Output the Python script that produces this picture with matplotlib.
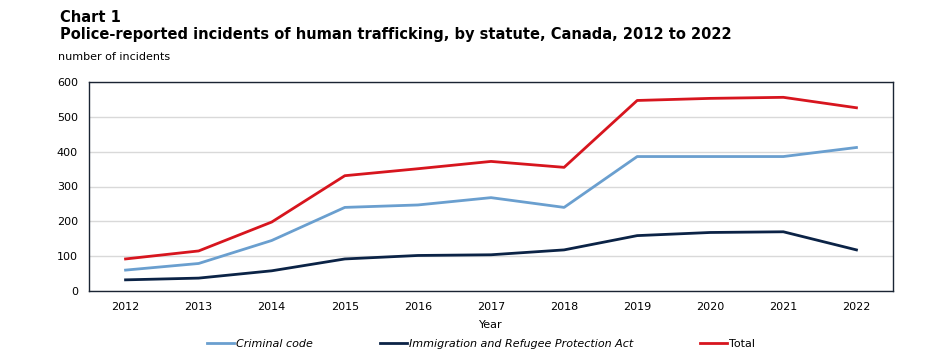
import matplotlib.pyplot as plt

# Data
years = [2012, 2013, 2014, 2015, 2016, 2017, 2018, 2019, 2020, 2021, 2022]
criminal_code = [60, 79, 145, 240, 247, 268, 240, 386, 386, 386, 412]
irpa = [32, 37, 58, 92, 102, 104, 118, 159, 168, 170, 118]
total = [92, 115, 198, 331, 351, 372, 355, 547, 553, 556, 526]
y_ticks = [0, 100, 200, 300, 400, 500, 600]

fig = plt.figure(figsize=(9.31, 3.55), dpi=100)
ax = fig.add_axes([89 / 931, 64 / 355, 804 / 931, 209 / 355])

ax.plot(years, criminal_code, color='#6A9FCF', lw=2, label='Criminal code')
ax.plot(years, irpa, color='#0B2346', lw=2, label='Immigration and Refugee Protection Act')
ax.plot(years, total, color='#D7151E', lw=2, label='Total')

ax.set_xlim(2011.5, 2022.5)
ax.set_ylim(0, 600)
ax.set_xticks(years)
ax.set_yticks(y_ticks)
ax.tick_params(length=0, labelsize=8, pad=8)
ax.grid(axis='y', color='#D9D9D9', lw=1)
ax.set_axisbelow(True)
for s in ax.spines.values():
    s.set_color('#1A2433')
    s.set_linewidth(1)
ax.set_xlabel('Year', fontsize=8, labelpad=6)

fig.text(60 / 931, 1 - 17 / 355, 'Chart 1', fontsize=10.5, fontweight='bold', va='center')
fig.text(60 / 931, 1 - 35 / 355,
         'Police-reported incidents of human trafficking, by statute, Canada, 2012 to 2022',
         fontsize=10.5, fontweight='bold', va='center')
fig.text(58 / 931, 1 - 57 / 355, 'number of incidents', fontsize=8, va='center')

leg = fig.legend(loc='center', bbox_to_anchor=(481 / 931, 1 - 344 / 355), ncol=3,
                 frameon=False, fontsize=8, handlelength=2.45, handletextpad=0.2,
                 columnspacing=6, borderpad=0.2)
for t in leg.get_texts()[:2]:
    t.set_fontstyle('italic')

fig.savefig('out.png', dpi=100)
